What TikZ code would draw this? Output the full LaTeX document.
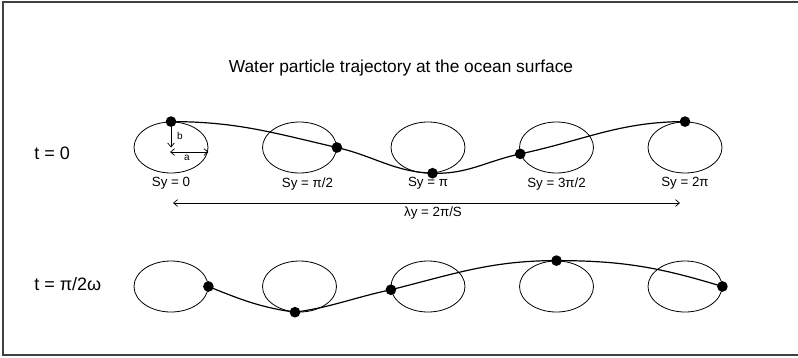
\documentclass[tikz,border=0pt]{standalone}
\usepackage{fontspec}
\setmainfont{Liberation Sans}
\usetikzlibrary{shapes.geometric,arrows.meta}

\tikzset{
    orbit/.style={draw, ellipse, minimum width=55.5pt, minimum height=38.25pt, inner sep=0pt, line width=0.6pt},
    particle/.style={circle, fill=black, minimum size=8pt, inner sep=0pt},
    wave/.style={line width=0.9pt},
    dimarrow/.style={line width=0.55pt, >={Straight Barb[length=3pt,width=5pt]}},
    phase/.style={below=2pt, inner sep=1pt, font=\fontsize{10}{12}\selectfont},
    timelabel/.style={anchor=base west, inner sep=0pt, font=\fontsize{13.5}{16}\selectfont},
}

\begin{document}
\begin{tikzpicture}[x=0.75pt, y=-0.75pt]
    \useasboundingbox (0,0) rectangle (798,357);
    \draw[black!75, line width=0.8pt] (798,2) -- (3,2) -- (3,355) -- (798,355);

    \node[anchor=base, inner sep=0pt, font=\fontsize{13}{15}\selectfont] (title) at (401,72) {Water particle trajectory at the ocean surface};

    \node[timelabel] (tzero) at (34,159) {t = 0};
    \node[timelabel] (tquarter) at (34,290) {t = π/2ω};

    \foreach \i/\x in {1/171, 2/299.5, 3/428, 4/556.5, 5/685} {
        \node[orbit] (u\i) at (\x,147.5) {};
        \node[orbit] (v\i) at (\x,286.5) {};
    }

    \node[phase] (sy1) at (u1.south) {Sy = 0};
    \node[phase, xshift=6pt] (sy2) at (u2.south) {Sy = π/2};
    \node[phase] (sy3) at (u3.south) {Sy = π};
    \node[phase] (sy4) at (u4.south) {Sy = 3π/2};
    \node[phase] (sy5) at (u5.south) {Sy = 2π};

    \node[particle] (p1) at (u1.north) {};
    \node[particle] (p2) at (u2.east) {};
    \node[particle] (p3) at (u3.-80) {};
    \node[particle] (p4) at (u4.190) {};
    \node[particle] (p5) at (u5.north) {};

    \node[particle] (q1) at (v1.east) {};
    \node[particle] (q2) at (v2.-100) {};
    \node[particle] (q3) at (v3.185) {};
    \node[particle] (q4) at (v4.north) {};
    \node[particle] (q5) at (v5.east) {};

    \draw[wave] (p1.center) to[out=0, in=167] (p2.center) to[out=-13, in=178] (p3.center)
        to[out=-2, in=192] (p4.center) to[out=12, in=180] (p5.center);
    \draw[wave] (q1.center) to[out=-22, in=172] (q2.center) to[out=8, in=192] (q3.center)
        to[out=14, in=180] (q4.center) to[out=0, in=163] (q5.center);

    \draw[dimarrow, ->] (p1) -- (u1.center);
    \node[anchor=base, inner sep=0pt, font=\fontsize{7.5}{9}\selectfont] (lb) at (180,139) {b};
    \coordinate (a0) at (170,152);
    \draw[dimarrow, <->] (a0) -- (a0 -| u1.east);
    \node[anchor=base, inner sep=0pt, font=\fontsize{7.5}{9}\selectfont] (la) at (187,160) {a};

    \coordinate (l0) at (173,203);
    \coordinate (l1) at (680,203);
    \draw[dimarrow, <->] (l0) -- (l1);
    \node[anchor=base, inner sep=0pt, font=\fontsize{10}{12}\selectfont] (lam) at (433,216) {λy = 2π/S};
\end{tikzpicture}
\end{document}
